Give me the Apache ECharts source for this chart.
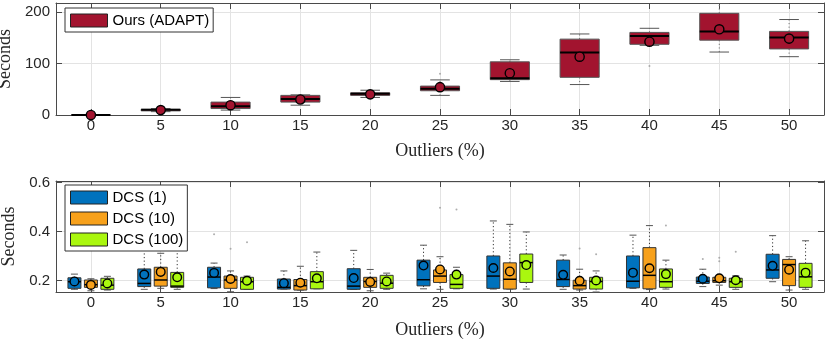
<!DOCTYPE html>
<html>
<head>
<meta charset="utf-8">
<script src="https://cdn.jsdelivr.net/npm/echarts@6/dist/echarts.min.js"></script>
<style>
html, body { margin: 0; padding: 0; background: #fff; }
#chart { width: 830px; height: 342px; }
</style>
</head>
<body>
<div id="chart"></div>
<script>
// outlier percentages (x categories)
const outlierLevels = [0, 5, 10, 15, 20, 25, 30, 35, 40, 45, 50]

// top panel: Ours (ADAPT) -> [min, q1, median, q3, max]
const adaptBox = [
    [0, 0, 0, 0, 0.5],
    [6.5, 8, 10, 11, 12.5],
    [9.5, 12.5, 17, 25, 34],
    [19, 25, 31, 38, 39],
    [34, 38, 41, 43, 48],
    [38, 47, 51, 56, 68],
    [65, 68.5, 71, 103, 107],
    [59, 73, 121, 147, 157],
    [135, 137, 153, 160, 168],
    [122, 145, 162, 197, 216],
    [113, 128, 150, 162, 185]
]
const adaptMean = [0, 9.5, 19, 30, 40, 54, 81, 113, 142, 166, 148]
const adaptOutliers = [[5, 80], [8, 95]] // [category index, value]

// bottom panel: DCS with 1 / 10 / 100 -> [min, q1, median, q3, max]
const dcs1Box = [
    [0.165, 0.169, 0.196, 0.212, 0.227],
    [0.165, 0.176, 0.189, 0.248, 0.37],
    [0.168, 0.171, 0.215, 0.255, 0.272],
    [0.166, 0.166, 0.173, 0.207, 0.24],
    [0.165, 0.165, 0.178, 0.249, 0.324],
    [0.167, 0.179, 0.204, 0.284, 0.345],
    [0.166, 0.169, 0.219, 0.301, 0.444],
    [0.165, 0.176, 0.205, 0.284, 0.305],
    [0.169, 0.171, 0.198, 0.301, 0.386],
    [0.176, 0.189, 0.198, 0.215, 0.247],
    [0.196, 0.21, 0.244, 0.308, 0.384]
]
const dcs1Mean = [0.197, 0.225, 0.232, 0.19, 0.211, 0.262, 0.252, 0.224, 0.233, 0.208, 0.261]
const dcs1Outliers = [[2, 0.39], [9, 0.289]]

const dcs10Box = [
    [0.159, 0.173, 0.184, 0.203, 0.208],
    [0.169, 0.178, 0.203, 0.255, 0.312],
    [0.155, 0.169, 0.203, 0.219, 0.24],
    [0.162, 0.162, 0.18, 0.205, 0.259],
    [0.159, 0.173, 0.197, 0.214, 0.246],
    [0.165, 0.193, 0.219, 0.244, 0.298],
    [0.166, 0.166, 0.206, 0.273, 0.43],
    [0.162, 0.166, 0.18, 0.202, 0.247],
    [0.164, 0.167, 0.222, 0.335, 0.425],
    [0.182, 0.193, 0.2, 0.214, 0.214],
    [0.162, 0.18, 0.266, 0.287, 0.298]
]
const dcs10Mean = [0.183, 0.236, 0.207, 0.192, 0.195, 0.246, 0.238, 0.2, 0.251, 0.21, 0.245]
const dcs10Outliers = [[2, 0.33], [5, 0.498], [7, 0.332], [9, 0.294], [9, 0.28]]

const dcs100Box = [
    [0.162, 0.165, 0.182, 0.21, 0.218],
    [0.165, 0.173, 0.178, 0.234, 0.327],
    [0.165, 0.165, 0.196, 0.214, 0.219],
    [0.167, 0.167, 0.196, 0.237, 0.317],
    [0.165, 0.169, 0.19, 0.222, 0.231],
    [0.167, 0.169, 0.185, 0.225, 0.255],
    [0.166, 0.193, 0.274, 0.309, 0.399],
    [0.154, 0.166, 0.197, 0.214, 0.24],
    [0.166, 0.173, 0.196, 0.248, 0.284],
    [0.165, 0.173, 0.196, 0.21, 0.22],
    [0.165, 0.173, 0.216, 0.271, 0.363]
]
const dcs100Mean = [0.189, 0.214, 0.2, 0.21, 0.197, 0.225, 0.264, 0.201, 0.227, 0.202, 0.233]
const dcs100Outliers = [[2, 0.357], [5, 0.491], [7, 0.308], [8, 0.425], [9, 0.318]]

const tickFont = 'Liberation Sans, Arial, sans-serif'
const nameFont = 'Liberation Serif, Times New Roman, serif'
const frameColor = '#4a4a4a'
const step = 5

// rows for the custom box series: [x, min, q1, med, q3, max, mean]
function boxRows(box, mean) {
    return box.map((b, i) => [outlierLevels[i]].concat(b, [mean[i]]))
}

// box + whisker + mean circle drawn through the axis scales
function boxRenderer(cfg) {
    return function (params, api) {
        const xv = api.value(0)
        const band = api.size([step, 0])[0]
        const cx = api.coord([xv, 0])[0] + cfg.offset * band
        const half = band * cfg.boxWidth / 2
        const capHalf = band * cfg.capWidth / 2
        const py = v => api.coord([xv, v])[1]
        const yMin = py(api.value(1))
        const yQ1 = py(api.value(2))
        const yMed = py(api.value(3))
        const yQ3 = py(api.value(4))
        const yMax = py(api.value(5))
        const yMean = py(api.value(6))
        const dotted = { stroke: cfg.whiskerColor, lineWidth: 1, lineDash: [1.2, 2.4] }
        const cap = { stroke: cfg.capColor, lineWidth: 1 }
        return {
            type: 'group',
            children: [
                { type: 'line', shape: { x1: cx, y1: yQ3, x2: cx, y2: yMax }, style: dotted },
                { type: 'line', shape: { x1: cx, y1: yQ1, x2: cx, y2: yMin }, style: dotted },
                { type: 'line', shape: { x1: cx - capHalf, y1: yMax, x2: cx + capHalf, y2: yMax }, style: cap },
                { type: 'line', shape: { x1: cx - capHalf, y1: yMin, x2: cx + capHalf, y2: yMin }, style: cap },
                {
                    type: 'rect',
                    shape: { x: cx - half, y: yQ3, width: half * 2, height: Math.max(yQ1 - yQ3, 0.5) },
                    style: { fill: cfg.color, stroke: cfg.edgeColor, lineWidth: 1 }
                },
                { type: 'line', shape: { x1: cx - half, y1: yMed, x2: cx + half, y2: yMed }, style: { stroke: '#000', lineWidth: cfg.medianWidth } },
                { type: 'circle', shape: { cx: cx, cy: yMean, r: cfg.radius }, style: { fill: cfg.color, stroke: '#000', lineWidth: 1.4 } }
            ]
        }
    }
}

function boxSeries(name, box, mean, gridIdx, cfg) {
    return {
        name: name,
        type: 'custom',
        xAxisIndex: gridIdx * 2,
        yAxisIndex: gridIdx * 2,
        itemStyle: { color: cfg.color },
        encode: { x: 0, y: [1, 2, 3, 4, 5] },
        data: boxRows(box, mean),
        renderItem: boxRenderer(cfg),
        z: 3
    }
}

function outlierSeries(points, gridIdx, offset) {
    return {
        type: 'scatter',
        xAxisIndex: gridIdx * 2,
        yAxisIndex: gridIdx * 2,
        symbolSize: 2,
        itemStyle: { color: '#9a9a9a' },
        silent: true,
        z: 2,
        data: points.map(p => [outlierLevels[p[0]] + offset * step, p[1]])
    }
}

// x axes: labelled bottom axis + frame axis on top
function xAxes(gridIdx) {
    const base = {
        gridIndex: gridIdx,
        type: 'value',
        min: -2.5,
        max: 52.5,
        splitNumber: 11,
        axisLine: { show: true, onZero: false, lineStyle: { color: frameColor, width: 1 } },
        axisTick: { show: true, inside: true, length: 6, lineStyle: { color: frameColor } }
    }
    return [
        Object.assign({}, base, {
            position: 'bottom',
            name: 'Outliers (%)',
            nameLocation: 'middle',
            nameGap: gridIdx === 0 ? 27 : 29,
            nameTextStyle: { fontFamily: nameFont, fontSize: 18, color: '#262626' },
            axisLabel: {
                margin: 3,
                fontFamily: tickFont,
                fontSize: 15,
                color: '#262626',
                formatter: v => (Math.abs(v % step) < 1e-6 ? String(Math.round(v)) : '')
            },
            splitLine: { show: true, lineStyle: { color: '#e3e3e3', width: 1 } }
        }),
        Object.assign({}, base, {
            position: 'top',
            axisLabel: { show: false },
            splitLine: { show: false }
        })
    ]
}

function yAxes(gridIdx, min, max, splitNumber, labelStep, digits) {
    const base = {
        gridIndex: gridIdx,
        type: 'value',
        min: min,
        max: max,
        splitNumber: splitNumber,
        axisLine: { show: true, onZero: false, lineStyle: { color: frameColor, width: 1 } },
        axisTick: { show: true, inside: true, length: 6, lineStyle: { color: frameColor } }
    }
    return [
        Object.assign({}, base, {
            position: 'left',
            name: 'Seconds',
            nameLocation: 'middle',
            nameGap: 33,
            nameTextStyle: { fontFamily: nameFont, fontSize: 18, color: '#262626' },
            axisLabel: {
                margin: 6,
                fontFamily: tickFont,
                fontSize: 15,
                color: '#262626',
                formatter: v => {
                    const k = v / labelStep
                    return Math.abs(k - Math.round(k)) < 1e-6 ? v.toFixed(digits) : ''
                }
            },
            splitLine: { show: true, lineStyle: { color: '#e3e3e3', width: 1 } }
        }),
        Object.assign({}, base, {
            position: 'right',
            axisLabel: { show: false },
            splitLine: { show: false }
        })
    ]
}

function legendBox(top, items) {
    return {
        orient: 'vertical',
        left: 65,
        top: top,
        itemWidth: 37,
        itemHeight: 13,
        itemGap: 6,
        padding: [5, 4, 4, 5],
        backgroundColor: '#fff',
        borderColor: '#333',
        borderWidth: 1,
        borderRadius: 0,
        selectedMode: false,
        textStyle: { fontFamily: tickFont, fontSize: 15, color: '#000' },
        data: items.map(it => ({
            name: it[0],
            icon: 'rect',
            itemStyle: { color: it[1], borderColor: '#222', borderWidth: 1 }
        }))
    }
}

const adaptColor = '#a2142f'
const dcsColors = ['#0072bd', '#f7a11c', '#aaf70f']

const topCfg = { offset: 0, boxWidth: 0.56, capWidth: 0.28, color: adaptColor, edgeColor: '#555', whiskerColor: '#777', capColor: '#555', medianWidth: 2, radius: 4.6 }
const dcsCfg = (offset, color) => ({ offset: offset, boxWidth: 0.186, capWidth: 0.1, color: color, edgeColor: '#333', whiskerColor: '#333', capColor: '#555', medianWidth: 1.5, radius: 4.3 })

const chart = echarts.init(document.getElementById('chart'), null, { renderer: 'canvas' })
chart.setOption({
    backgroundColor: '#fff',
    animation: false,
    grid: [
        { left: 56, right: 6, top: 3, height: 112, outerBoundsMode: 'none', containLabel: false },
        { left: 56, right: 6, top: 181, height: 111, outerBoundsMode: 'none', containLabel: false }
    ],
    xAxis: xAxes(0).concat(xAxes(1)),
    yAxis: yAxes(0, 0, 217, 2, 100, 0).concat(yAxes(1, 0.154, 0.607, 2, 0.2, 1)),
    legend: [
        legendBox(8, [['Ours (ADAPT)', adaptColor]]),
        legendBox(185, [['DCS (1)', dcsColors[0]], ['DCS (10)', dcsColors[1]], ['DCS (100)', dcsColors[2]]])
    ],
    series: [
        boxSeries('Ours (ADAPT)', adaptBox, adaptMean, 0, topCfg),
        outlierSeries(adaptOutliers, 0, 0),
        boxSeries('DCS (1)', dcs1Box, dcs1Mean, 1, dcsCfg(-0.236, dcsColors[0])),
        boxSeries('DCS (10)', dcs10Box, dcs10Mean, 1, dcsCfg(0, dcsColors[1])),
        boxSeries('DCS (100)', dcs100Box, dcs100Mean, 1, dcsCfg(0.236, dcsColors[2])),
        outlierSeries(dcs1Outliers, 1, -0.236),
        outlierSeries(dcs10Outliers, 1, 0),
        outlierSeries(dcs100Outliers, 1, 0.236)
    ]
})
</script>
</body>
</html>
